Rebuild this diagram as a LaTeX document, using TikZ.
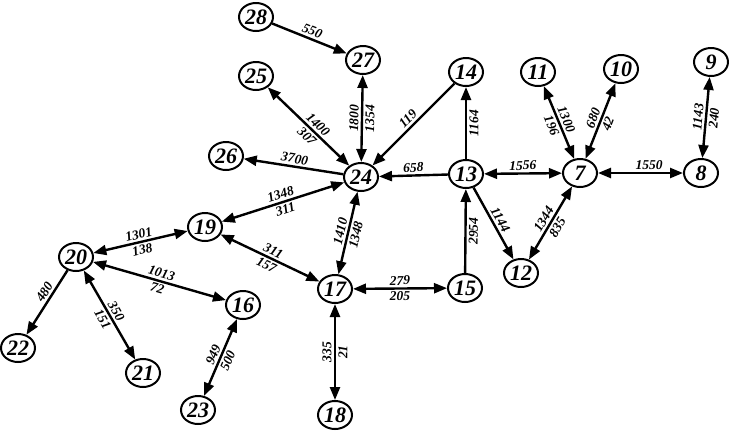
\documentclass[tikz,border=0pt]{standalone}
\usepackage{fontspec}
\setmainfont{Liberation Serif}
\usetikzlibrary{shapes.geometric,arrows.meta}
\tikzset{
  vtx/.style={ellipse,draw,line width=2pt,minimum width=34pt,minimum height=28pt,inner sep=0pt,font=\fontsize{22}{22}\selectfont\bfseries\itshape},
  edge/.style={line width=2.4pt},
  one/.style={edge,-{Triangle[length=13pt,width=10pt]}},
  two/.style={edge,{Triangle[length=13pt,width=10pt]}-{Triangle[length=13pt,width=10pt]}},
  lbl/.style={font=\fontsize{13.5}{13.5}\selectfont\bfseries\itshape,inner sep=2.2pt,sloped}
}
\begin{document}
\begin{tikzpicture}[x=1pt,y=-1pt]
\useasboundingbox (0,0) rectangle (729,432);
\node[vtx] (n28) at (256,17) {28};
\node[vtx] (n27) at (363,60) {27};
\node[vtx] (n25) at (256,76) {25};
\node[vtx] (n14) at (466,72) {14};
\node[vtx] (n11) at (538,72) {11};
\node[vtx] (n10) at (621,69) {10};
\node[vtx] (n9) at (711,62) {9};
\node[vtx] (n26) at (226,156) {26};
\node[vtx] (n24) at (361,177) {24};
\node[vtx] (n13) at (466,174) {13};
\node[vtx] (n7) at (580,173) {7};
\node[vtx] (n8) at (701,173) {8};
\node[vtx] (n19) at (205,227) {19};
\node[vtx] (n20) at (76,257) {20};
\node[vtx] (n16) at (243,305) {16};
\node[vtx] (n17) at (335,289) {17};
\node[vtx] (n15) at (465,288) {15};
\node[vtx] (n12) at (521,273) {12};
\node[vtx] (n22) at (18,348) {22};
\node[vtx] (n21) at (143,373) {21};
\node[vtx] (n23) at (198,410) {23};
\node[vtx] (n18) at (335,415) {18};

\draw[one] (n28) -- node[lbl,above] {550} (n27);
\draw[two] (n24) -- node[lbl,above] {1800} node[lbl,below] {1354} (n27);
\draw[two] (n24) -- node[lbl,above,pos=0.45] {1400} node[lbl,below,pos=0.45] {307} (n25);
\draw[one] (n14) -- node[lbl,above] {119} (n24);
\draw[one] (n13) -- node[lbl,below] {1164} (n14);
\draw[one] (n13) -- node[lbl,above] {658} (n24);
\draw[two] (n13) -- node[lbl,above] {1556} (n7);
\draw[two] (n7) -- node[lbl,above] {1300} node[lbl,below] {196} (n11);
\draw[two] (n7) -- node[lbl,above] {680} node[lbl,below] {42} (n10);
\draw[two] (n7) -- node[lbl,above,pos=0.6] {1550} (n8);
\draw[two] (n8) -- node[lbl,above] {1143} node[lbl,below] {240} (n9);
\draw[one] (n13) -- node[lbl,above] {1144} (n12);
\draw[two] (n12) -- node[lbl,above] {1344} node[lbl,below] {835} (n7);
\draw[one] (n15) -- node[lbl,below] {2954} (n13);
\draw[two] (n17) -- node[lbl,above] {279} node[lbl,below] {205} (n15);
\draw[one] (n24) -- node[lbl,above] {3700} (n26);
\draw[two] (n24) -- node[lbl,above] {1348} node[lbl,below] {311} (n19);
\draw[two] (n17) -- node[lbl,above] {1410} node[lbl,below] {1348} (n24);
\draw[two] (n19) -- node[lbl,above] {311} node[lbl,below] {157} (n17);
\draw[two] (n20) -- node[lbl,above] {1301} node[lbl,below] {138} (n19);
\draw[two] (n20) -- node[lbl,above] {1013} node[lbl,below] {72} (n16);
\draw[one] (n20) -- node[lbl,above,pos=0.4] {480} (n22);
\draw[two] (n20) -- node[lbl,above] {350} node[lbl,below] {151} (n21);
\draw[two] (n23) -- node[lbl,above] {949} node[lbl,below] {500} (n16);
\draw[two] (n18) -- node[lbl,above] {335} node[lbl,below] {21} (n17);
\end{tikzpicture}
\end{document}
